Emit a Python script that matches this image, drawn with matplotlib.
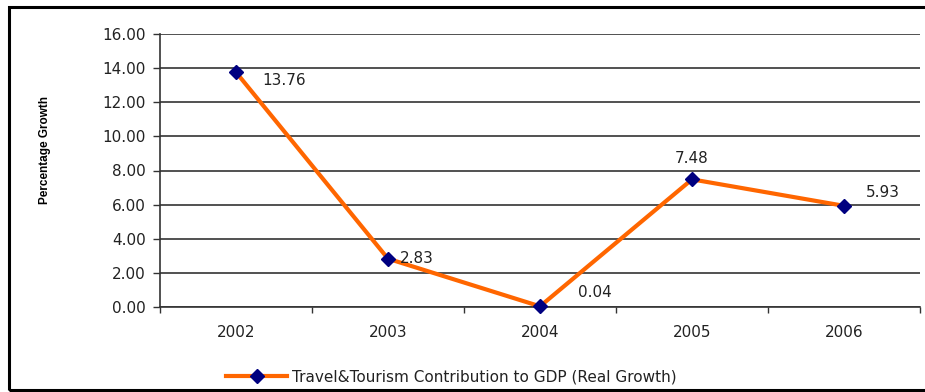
import matplotlib.pyplot as plt
from matplotlib.patches import Rectangle

years = ['2002', '2003', '2004', '2005', '2006']
growth = [13.76, 2.83, 0.04, 7.48, 5.93]
# where each value label sits relative to its point (pixels)
label_offsets = [(26, -8), (12, 0), (38, 14), (0, 21), (22, 13)]
label_align = ['left', 'left', 'left', 'center', 'left']

plt.rcParams['font.family'] = ['DejaVu Sans']

fig = plt.figure(figsize=(9.25, 3.92), dpi=100)
ax = fig.add_axes([160 / 925, 85 / 392, 760 / 925, 273 / 392])

x = list(range(len(years)))
ax.plot(x, growth, color='#FF6600', lw=3, marker='D', markersize=7.5,
        markerfacecolor='#000080', markeredgecolor='#000080',
        label='Travel&Tourism Contribution to GDP (Real Growth)', zorder=3,
        clip_on=False)

for xi, v, off, ha in zip(x, growth, label_offsets, label_align):
    ax.annotate(f'{v:.2f}', (xi, v), xytext=off, textcoords='offset pixels',
                ha=ha, va='center', fontsize=11, color='#222222')

ax.set_xlim(-0.5, len(years) - 0.5)
ax.set_ylim(0, 16)
ax.set_yticks(range(0, 17, 2))
ax.set_yticklabels([f'{v:.2f}' for v in range(0, 17, 2)], fontsize=11, color='#222222')
ax.set_xticks(x)
ax.set_xticklabels(years, fontsize=11, color='#222222')
ax.set_xticks([i + 0.5 for i in range(-1, len(years))], minor=True)
ax.tick_params(axis='x', which='major', length=0, pad=13)
ax.tick_params(axis='x', which='minor', length=4, width=1, color='#333333')
ax.tick_params(axis='y', length=5, width=1, color='#333333', pad=5)

ax.grid(axis='y', color='#333333', lw=1.2)
ax.set_axisbelow(True)
for side in ['top', 'right']:
    ax.spines[side].set_visible(False)
ax.spines['left'].set_color('#333333')
ax.spines['left'].set_linewidth(1.2)
ax.spines['bottom'].set_color('#333333')
ax.spines['bottom'].set_linewidth(1.2)

fig.text(45 / 925, (392 - 150) / 392, 'Percentage Growth', rotation=90, ha='center',
         va='center', fontsize=8.5, fontweight='bold',
         family=['Liberation Sans Narrow', 'Liberation Sans'])

fig.legend(loc='center left', bbox_to_anchor=(226 / 925, 15 / 392), frameon=False,
           fontsize=11, handlelength=4, handletextpad=0.3, borderpad=0,
           borderaxespad=0, labelcolor='#222222')

# outer frame
fig.patches.append(Rectangle((9 / 925, 2 / 392), 1.0, 383 / 392, transform=fig.transFigure,
                             fill=False, edgecolor='black', lw=2.2))

fig.savefig('out.png', dpi=100)
